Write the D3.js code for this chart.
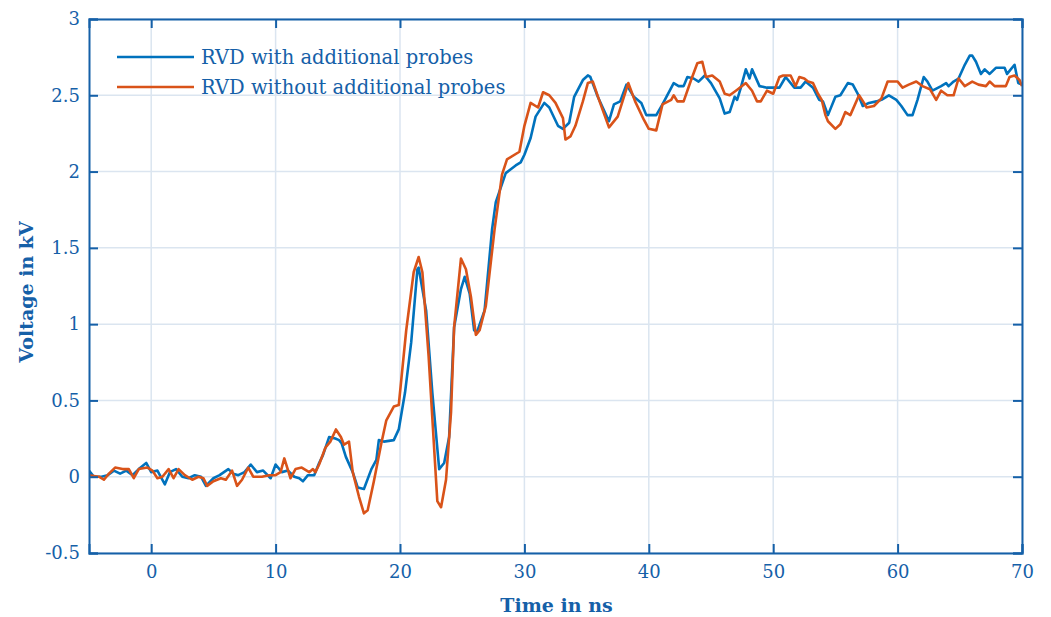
<!DOCTYPE html>
<html><head><meta charset="utf-8">
<script src="https://cdn.jsdelivr.net/npm/d3@7"></script>
<style>body{margin:0;background:#fff}svg{display:block}</style>
</head><body>
<svg id="c" width="1051" height="617"></svg>
<script>
const xTicks = [0,10,20,30,40,50,60,70];
const yTicks = [-0.5,0,0.5,1,1.5,2,2.5,3];
const yTickLabels = ["-0.5","0","0.5","1","1.5","2","2.5","3"];
const seriesNames = ["RVD with additional probes","RVD without additional probes"];

const blueT = [-5.0,-4.6,-4.0,-3.5,-3.0,-2.5,-2.0,-1.5,-1.0,-0.4,0.0,0.5,1.1,1.5,2.0,2.5,3.0,3.5,4.0,4.4,5.0,5.5,6.2,6.6,7.0,7.5,8.0,8.5,9.0,9.6,10.0,10.5,11.0,11.5,11.9,12.2,12.6,13.1,13.5,13.8,14.3,14.8,15.1,15.3,15.65,16.2,16.6,17.1,17.7,18.1,18.3,18.7,19.5,19.9,20.4,20.9,21.4,21.5,22.1,22.6,23.15,23.55,23.95,24.35,24.9,25.2,25.6,25.96,26.2,26.8,27.4,27.7,28.5,29.3,29.7,30.0,30.5,30.9,31.6,32.0,32.7,33.1,33.6,34.0,34.7,35.1,35.3,35.9,36.8,37.2,37.7,38.2,38.8,39.4,39.8,40.6,41.1,42.0,42.4,42.8,43.1,43.6,44.0,44.5,45.0,45.7,46.1,46.5,46.9,47.1,47.4,47.8,48.1,48.3,48.9,49.5,50.5,51.0,51.7,52.2,52.6,53.2,53.7,54.0,54.4,55.0,55.4,56.0,56.4,56.8,57.2,57.7,58.3,58.7,59.3,59.9,60.3,60.8,61.2,61.6,62.1,62.4,62.8,63.5,63.9,64.1,64.5,64.9,65.4,65.8,66.0,66.3,66.7,67.0,67.4,67.9,68.6,68.8,69.4,69.7,70.0];
const blueV = [0.04,0.0,0.0,0.01,0.04,0.02,0.04,0.01,0.05,0.09,0.03,0.04,-0.05,0.03,0.05,0.0,-0.01,0.01,0.0,-0.06,-0.01,0.01,0.05,0.02,0.01,0.03,0.08,0.03,0.04,-0.01,0.08,0.03,0.04,0.0,-0.01,-0.03,0.01,0.01,0.09,0.14,0.26,0.25,0.24,0.22,0.13,0.03,-0.07,-0.08,0.05,0.11,0.24,0.23,0.24,0.31,0.55,0.88,1.36,1.37,1.09,0.55,0.05,0.09,0.26,0.98,1.23,1.31,1.2,0.96,0.95,1.09,1.62,1.8,1.99,2.04,2.06,2.11,2.22,2.36,2.45,2.42,2.30,2.28,2.32,2.49,2.60,2.63,2.62,2.49,2.33,2.44,2.46,2.57,2.49,2.45,2.37,2.37,2.44,2.58,2.56,2.56,2.62,2.61,2.59,2.63,2.58,2.48,2.38,2.39,2.49,2.47,2.55,2.67,2.61,2.67,2.56,2.55,2.55,2.62,2.55,2.55,2.59,2.55,2.47,2.46,2.37,2.49,2.50,2.58,2.57,2.51,2.43,2.45,2.46,2.47,2.50,2.47,2.43,2.37,2.37,2.47,2.62,2.59,2.53,2.56,2.58,2.56,2.59,2.61,2.70,2.76,2.76,2.72,2.64,2.67,2.64,2.68,2.68,2.64,2.70,2.58,2.57];

const orangeT = [-5.0,-4.2,-3.8,-3.4,-2.9,-2.3,-1.8,-1.4,-1.0,-0.3,0.1,0.5,0.9,1.4,1.8,2.2,2.7,3.3,3.8,4.2,4.5,5.0,5.6,6.0,6.5,6.9,7.3,7.8,8.2,8.9,9.5,10.0,10.4,10.7,11.2,11.6,12.1,12.7,13.0,13.2,13.5,14.0,14.4,14.85,15.25,15.5,15.9,16.2,16.7,17.1,17.4,17.9,18.5,18.9,19.5,19.9,20.5,21.1,21.5,21.8,22.3,23.0,23.3,23.7,24.1,24.35,24.9,25.3,25.7,26.1,26.4,26.9,27.6,28.2,28.6,29.6,30.0,30.5,31.1,31.5,32.0,32.5,33.1,33.3,33.7,34.1,34.7,35.1,35.5,36.0,36.8,37.5,38.35,38.9,39.6,40.0,40.6,41.1,41.8,42.0,42.3,42.8,43.4,43.9,44.3,44.6,45.1,45.7,46.1,46.5,47.0,47.8,48.3,48.7,49.0,49.5,50.0,50.5,50.8,51.4,51.8,52.1,52.5,52.8,53.2,53.6,53.9,54.2,54.4,55.0,55.4,55.8,56.2,56.9,57.3,57.5,58.1,58.7,59.2,60.0,60.4,60.9,61.5,62.0,62.6,63.1,63.5,64.0,64.5,64.9,65.4,66.0,66.5,67.1,67.4,67.8,68.7,69.0,69.4,69.8,70.0];
const orangeV = [0.01,0.0,-0.02,0.02,0.06,0.05,0.05,-0.01,0.05,0.06,0.04,-0.01,0.0,0.05,-0.01,0.05,0.01,-0.02,0.0,-0.01,-0.06,-0.03,-0.01,-0.02,0.04,-0.06,-0.02,0.06,0.0,0.0,0.01,0.01,0.03,0.12,-0.01,0.05,0.06,0.03,0.05,0.03,0.08,0.19,0.23,0.31,0.26,0.21,0.23,0.03,-0.13,-0.24,-0.22,-0.03,0.22,0.37,0.46,0.47,0.96,1.34,1.44,1.34,0.79,-0.16,-0.20,-0.02,0.42,0.98,1.43,1.36,1.18,0.93,0.96,1.12,1.62,1.98,2.08,2.13,2.30,2.45,2.42,2.52,2.50,2.45,2.35,2.21,2.23,2.30,2.46,2.58,2.59,2.47,2.29,2.36,2.58,2.46,2.34,2.28,2.27,2.44,2.47,2.50,2.46,2.46,2.60,2.71,2.72,2.62,2.63,2.59,2.51,2.50,2.53,2.58,2.53,2.46,2.46,2.53,2.51,2.62,2.63,2.63,2.56,2.62,2.61,2.59,2.58,2.51,2.47,2.37,2.33,2.28,2.31,2.39,2.37,2.50,2.45,2.42,2.43,2.48,2.59,2.59,2.55,2.57,2.59,2.56,2.54,2.47,2.53,2.50,2.50,2.61,2.56,2.59,2.57,2.56,2.59,2.56,2.56,2.62,2.63,2.60,2.56];

const colors = ["#0072BD","#D95319"];
const axisColor = "#1560a8";
const gridColor = "#dbe5f0";
const FONT = "'DejaVu Serif', serif";

const svg = d3.select("#c");
const L = 89, R = 1022, T = 19, B = 553;
const x = d3.scaleLinear().domain([-5,70]).range([L,R]);
const y = d3.scaleLinear().domain([-0.5,3]).range([B,T]);

// grid
const g = svg.append("g");
g.selectAll(".gx").data(xTicks).join("line")
  .attr("x1",d=>x(d)).attr("x2",d=>x(d)).attr("y1",T).attr("y2",B)
  .attr("stroke",gridColor).attr("stroke-width",1.5);
g.selectAll(".gy").data(yTicks).join("line")
  .attr("y1",d=>y(d)).attr("y2",d=>y(d)).attr("x1",L).attr("x2",R)
  .attr("stroke",gridColor).attr("stroke-width",1.5);

// lines
svg.append("clipPath").attr("id","clp").append("rect")
  .attr("x",L).attr("y",T).attr("width",R-L).attr("height",B-T);
const line = d3.line().x(d=>x(d[0])).y(d=>y(d[1]));
const series = [d3.zip(blueT,blueV), d3.zip(orangeT,orangeV)];
series.forEach((s,i)=>{
  svg.append("path").datum(s).attr("d",line).attr("fill","none")
    .attr("stroke",colors[i]).attr("stroke-width",2.6)
    .attr("stroke-linejoin","round").attr("clip-path","url(#clp)");
});

// axes
const tickLen = 9;
const axB = svg.append("g").attr("transform",`translate(0,${B})`)
  .call(d3.axisBottom(x).tickValues(xTicks).tickSize(-tickLen).tickPadding(12));
const axT = svg.append("g").attr("transform",`translate(0,${T})`)
  .call(d3.axisTop(x).tickValues(xTicks).tickSize(-tickLen).tickFormat(""));
const axL = svg.append("g").attr("transform",`translate(${L},0)`)
  .call(d3.axisLeft(y).tickValues(yTicks).tickSize(-tickLen).tickFormat((d,i)=>yTickLabels[i]).tickPadding(9));
const axR = svg.append("g").attr("transform",`translate(${R},0)`)
  .call(d3.axisRight(y).tickValues(yTicks).tickSize(-tickLen).tickFormat(""));
[axB,axT,axL,axR].forEach(a=>{
  a.select(".domain").attr("stroke",axisColor).attr("stroke-width",2);
  a.selectAll(".tick line").attr("stroke",axisColor).attr("stroke-width",2);
  a.selectAll("text").attr("fill",axisColor).attr("font-family",FONT).attr("font-size",18);
});

// axis titles
svg.append("text").attr("x",(L+R)/2+1).attr("y",612).attr("text-anchor","middle")
  .attr("fill",axisColor).attr("font-family",FONT).attr("font-weight","bold").attr("font-size",19)
  .text("Time in ns");
svg.append("text").attr("transform",`translate(33,${(T+B)/2+6}) rotate(-90)`).attr("text-anchor","middle")
  .attr("fill",axisColor).attr("font-family",FONT).attr("font-weight","bold").attr("font-size",19)
  .text("Voltage in kV");

// legend
const leg = svg.append("g");
seriesNames.forEach((n,i)=>{
  const yy = 57 + i*30;
  leg.append("line").attr("x1",117).attr("x2",194).attr("y1",yy).attr("y2",yy)
    .attr("stroke",colors[i]).attr("stroke-width",2.6);
  leg.append("text").attr("x",201).attr("y",yy+7).attr("fill",axisColor)
    .attr("font-family",FONT).attr("font-size",19.5).text(n);
});
</script>
</body></html>
